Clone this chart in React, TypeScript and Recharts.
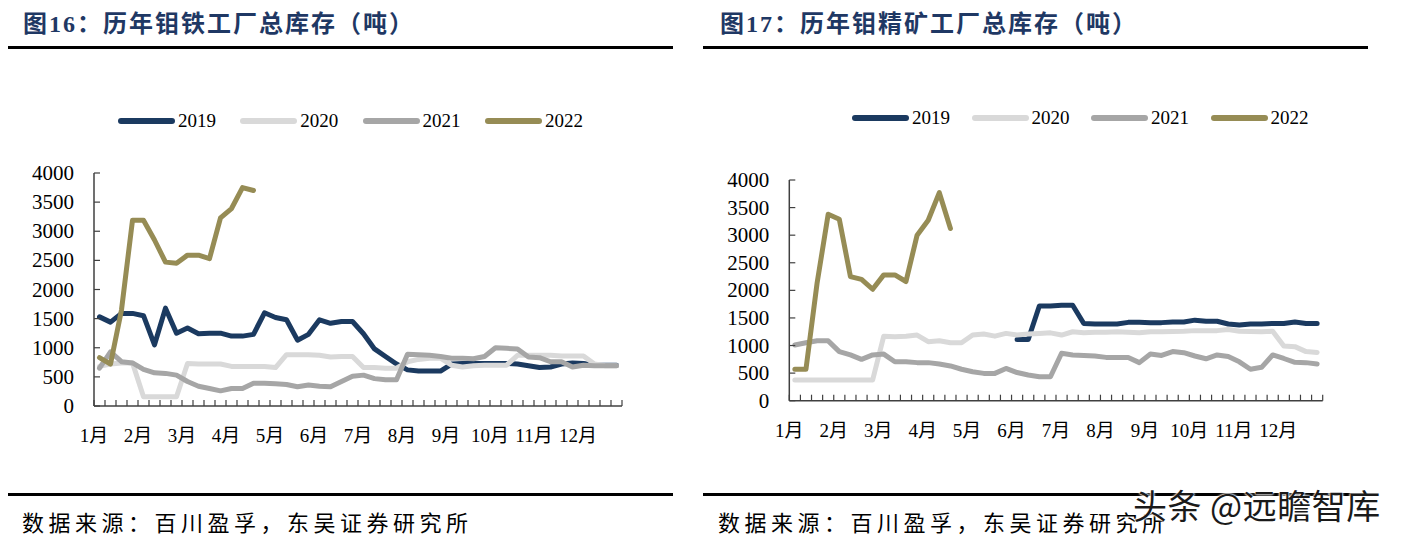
import { LineChart, Line, XAxis, YAxis } from "recharts";

const MONTHS = ["1月", "2月", "3月", "4月", "5月", "6月", "7月", "8月", "9月", "10月", "11月", "12月"];
const YEARS = ["2019", "2020", "2021", "2022"];
const COLORS = ["#1B3A60", "#D9D9D9", "#A6A6A6", "#968C55"];
const Y_TICKS = [0, 500, 1000, 1500, 2000, 2500, 3000, 3500, 4000];
const WEEKS = 48;

// 钼铁 (weekly, 4 points per month)
const ferro2019 = [1530, 1440, 1590, 1590, 1550, 1050, 1680, 1250, 1340, 1240, 1250, 1250, 1200, 1200, 1230, 1600, 1520, 1480, 1130, 1230, 1480, 1420, 1450, 1450, 1240, 980, 850, 720, 620, 600, 600, 600, 720, 730, 730, 730, 730, 730, 720, 690, 660, 670, 720, 740, 730, 700, 700, 700];
const ferro2020 = [680, 720, 740, 740, 160, 160, 160, 160, 730, 720, 720, 720, 680, 680, 680, 680, 660, 880, 880, 880, 870, 840, 850, 850, 660, 660, 650, 650, 760, 800, 820, 820, 700, 670, 690, 700, 700, 700, 870, 870, 870, 870, 860, 860, 860, 720, 690, 690];
const ferro2021 = [650, 930, 760, 740, 630, 570, 560, 530, 420, 340, 300, 260, 300, 300, 390, 390, 380, 370, 330, 360, 340, 330, 420, 510, 530, 470, 450, 450, 890, 880, 870, 850, 820, 820, 810, 850, 1000, 990, 980, 840, 830, 760, 760, 670, 700, 690, 690, 690];
const ferro2022 = [830, 720, 1650, 3190, 3190, 2850, 2470, 2450, 2590, 2590, 2530, 3230, 3390, 3750, 3700];

// 钼精矿
const conc2019 = [null, null, null, null, null, null, null, null, null, null, null, null, null, null, null, null, null, null, null, null, 1110, 1110, 1715, 1715, 1730, 1730, 1400, 1390, 1390, 1390, 1420, 1420, 1415, 1415, 1425, 1425, 1460, 1440, 1440, 1390, 1370, 1390, 1390, 1400, 1400, 1425, 1400, 1400];
const conc2020 = [375, 375, 375, 375, 375, 375, 375, 375, 1170, 1160, 1170, 1190, 1070, 1085, 1050, 1050, 1190, 1210, 1170, 1220, 1190, 1210, 1220, 1230, 1190, 1250, 1230, 1240, 1240, 1250, 1240, 1230, 1250, 1250, 1255, 1260, 1270, 1270, 1270, 1290, 1260, 1255, 1250, 1260, 990, 980, 890, 875];
const conc2021 = [1010, 1050, 1085, 1085, 890, 830, 750, 830, 845, 705, 705, 690, 690, 665, 630, 570, 525, 495, 495, 585, 510, 465, 435, 435, 860, 830, 820, 810, 785, 785, 785, 690, 845, 820, 890, 870, 810, 760, 830, 800, 705, 570, 605, 830, 765, 695, 690, 665];
const conc2022 = [570, 570, 2130, 3380, 3290, 2250, 2200, 2020, 2280, 2280, 2160, 3000, 3270, 3770, 3120];

const SERIF = "'Liberation Serif', 'Noto Sans CJK SC', serif";
const CJK = "'Noto Sans CJK SC', sans-serif";
const AXIS = "#404040";
const TITLE = "#1F3864";
const X_TICKS = Array.from({ length: WEEKS + 1 }, (_, i) => i);

type Num = number | null;

const buildRows = (series: Num[][]) =>
  Array.from({ length: WEEKS }, (_, i) => {
    const row: Record<string, number | null> = { x: i + 0.5 };
    series.forEach((s, k) => {
      row[YEARS[k]] = s[i] ?? null;
    });
    return row;
  });

const XTick = (props: any) => {
  const { x, y, payload } = props;
  const v = payload.value;
  const label = v % 4 === 0 && v < WEEKS ? MONTHS[v / 4] : "";
  return (
    <g>
      <line x1={x} y1={y} x2={x} y2={y - 6} stroke={AXIS} strokeWidth={1.2} />
      {label && (
        <text x={x} y={y + 36} textAnchor="middle" fontSize={19} fill="#000" fontFamily={SERIF}>
          {label}
        </text>
      )}
    </g>
  );
};

const YTick = (props: any) => {
  const { x, y, payload } = props;
  return (
    <g>
      <line x1={x} y1={y} x2={x + 6} y2={y} stroke={AXIS} strokeWidth={1.2} />
      <text x={x - 20} y={y + 7} textAnchor="end" fontSize={21} fill="#000" fontFamily={SERIF}>
        {payload.value}
      </text>
    </g>
  );
};

type PanelProps = {
  left: number;
  width: number;
  title: string;
  rows: Record<string, number | null>[];
  margin: { top: number; right: number; left: number; bottom: number };
  legendLeft: number;
  legendTop: number;
  legendGap: number;
  lineEnd: number;
};

const Panel = (props: PanelProps) => {
  const { left, width, title, rows, margin, legendLeft, legendTop, legendGap, lineEnd } = props;

  return (
    <div style={{ position: "absolute", left, top: 0, width, height: 539 }}>
      {/* title + rule */}
      <div
        style={{
          position: "absolute",
          left: left === 0 ? 23 : 20,
          top: 8,
          fontFamily: SERIF,
          fontWeight: 700,
          fontSize: 24,
          letterSpacing: 2,
          color: TITLE,
          whiteSpace: "nowrap",
          lineHeight: "32px",
        }}
      >
        {title}
      </div>
      <div style={{ position: "absolute", left: left === 0 ? 8 : 3, top: 46, width: lineEnd, height: 3, background: "#000" }} />

      {/* legend */}
      {YEARS.map((year, k) => (
        <div
          key={year}
          style={{
            position: "absolute",
            left: legendLeft + k * legendGap,
            top: legendTop - 12,
            height: 24,
            display: "flex",
            alignItems: "center",
            fontFamily: SERIF,
            fontSize: 19,
            color: "#000",
          }}
        >
          <span style={{ width: 57, height: 6, borderRadius: 3, background: COLORS[k], marginRight: 3 }} />
          {year}
        </div>
      ))}

      <div style={{ position: "absolute", left: 0, top: 0 }}>
        <LineChart width={width} height={470} data={rows} margin={margin}>
          <XAxis
            dataKey="x"
            type="number"
            domain={[0, WEEKS]}
            ticks={X_TICKS}
            interval={0}
            height={30}
            tickSize={0}
            tickMargin={0}
            tick={<XTick />}
            axisLine={{ stroke: AXIS, strokeWidth: 1.5 }}
            tickLine={false}
          />
          <YAxis
            type="number"
            domain={[0, 4000]}
            ticks={Y_TICKS}
            interval={0}
            width={60}
            tickSize={0}
            tickMargin={0}
            tick={<YTick />}
            axisLine={{ stroke: AXIS, strokeWidth: 1.5 }}
            tickLine={false}
          />
          {YEARS.map((year, k) => (
            <Line
              key={year}
              type="linear"
              dataKey={year}
              stroke={COLORS[k]}
              strokeWidth={5}
              strokeLinecap="round"
              strokeLinejoin="round"
              dot={false}
              activeDot={false}
              isAnimationActive={false}
            />
          ))}
        </LineChart>
      </div>

      {/* source */}
      <div style={{ position: "absolute", left: left === 0 ? 8 : 3, top: 493, width: lineEnd, height: 3, background: "#000" }} />
      <div
        style={{
          position: "absolute",
          left: left === 0 ? 22 : 18,
          top: 506,
          fontFamily: CJK,
          fontSize: 22,
          letterSpacing: 4.5,
          color: "#000",
          whiteSpace: "nowrap",
          lineHeight: "30px",
        }}
      >
        数据来源：百川盈孚，东吴证券研究所
      </div>
    </div>
  );
};

export default function App() {
  const ferroRows = buildRows([ferro2019, ferro2020, ferro2021, ferro2022]);
  const concRows = buildRows([conc2019, conc2020, conc2021, conc2022]);

  return (
    <div style={{ position: "absolute", left: 0, top: 0, width: 1406, height: 539, background: "#fff", overflow: "hidden" }}>
      <Panel
        left={0}
        width={680}
        title="图16：历年钼铁工厂总库存（吨）"
        rows={ferroRows}
        margin={{ top: 173, right: 58, left: 34, bottom: 34 }}
        legendLeft={118}
        legendTop={121}
        legendGap={122.3}
        lineEnd={665}
      />
      <Panel
        left={700}
        width={700}
        title="图17：历年钼精矿工厂总库存（吨）"
        rows={concRows}
        margin={{ top: 180, right: 77.3, left: 29.3, bottom: 39.3 }}
        legendLeft={152}
        legendTop={118}
        legendGap={119.5}
        lineEnd={665}
      />
      <div
        style={{
          position: "absolute",
          left: 1133,
          top: 483,
          fontFamily: CJK,
          fontSize: 34,
          letterSpacing: 0.5,
          color: "#1a1a1a",
          whiteSpace: "nowrap",
          lineHeight: "44px",
          textShadow: "0 0 2px #fff, 0 0 2px #fff, 0 0 3px #fff",
        }}
      >
        头条 @远瞻智库
      </div>
    </div>
  );
}
